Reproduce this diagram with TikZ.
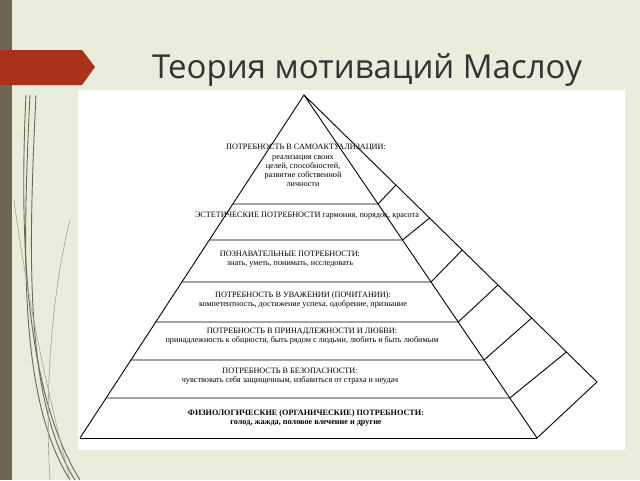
\documentclass[tikz,border=0pt]{standalone}
\usepackage{fontspec}
\setmainfont{Liberation Serif}
\newfontfamily\titlefont{Open Sans}
\definecolor{slidebg}{HTML}{E8EDDC}
\definecolor{barbrown}{HTML}{6E6650}
\definecolor{bannerred}{HTML}{A8321A}
\definecolor{grass}{HTML}{6E6650}
\begin{document}
\begin{tikzpicture}[x=1pt,y=-1pt,
  lvl/.style={font=\fontsize{8.2}{9.2}\selectfont, align=center, inner sep=0pt},
  lvlbold/.style={lvl, font=\fontsize{8.2}{9.2}\selectfont\bfseries},
  edge/.style={line width=0.9pt}]
\useasboundingbox (0,0) rectangle (640,480);
\fill[slidebg] (0,0) rectangle (640,480);
\fill[barbrown] (0,0) rectangle (12,480);
% grass
\foreach \a/\b in {36/75,30/70,26/80}
  \draw[grass, line width=0.9pt] (\a,95) .. controls (\a-8,260) and (\b-50,400) .. (\b,480);
\draw[grass!60, line width=0.6pt] (14,200) .. controls (30,320) and (55,420) .. (70,480);
\draw[grass!60, line width=0.6pt] (70,220) .. controls (50,300) and (45,400) .. (50,480);
\fill[bannerred] (0,50) -- (82,50) -- (95,67) -- (82,85) -- (0,85) -- cycle;
\node[font=\titlefont\fontsize{33}{38}\selectfont, text=black!80] (title) at (367,70) {Теория мотиваций Маслоу};
\fill[white] (78,90) rectangle (625,450);
% pyramid
\coordinate (apex) at (304,95);
\coordinate (bl) at (80,438);
\coordinate (fr) at (537,438);
\coordinate (br) at (597,382);
\draw[edge] (bl) -- (apex) -- (fr) -- (br) -- (apex);
\draw[edge] (bl) -- (fr);
\foreach \y/\by in {204/185,240/218,282/250,322/285,360/318,398/352}{
  \pgfmathsetmacro\xl{304-224/343*(\y-95)}
  \pgfmathsetmacro\xr{304+233/343*(\y-95)}
  \pgfmathsetmacro\xb{304+293/287*(\by-95)}
  \draw[edge] (\xl,\y) -- (\xr,\y) -- (\xb,\by);
}
% texts
\node[lvl] (self) at (306,148) {ПОТРЕБНОСТЬ В САМОАКТУАЛИЗАЦИИ:};
\node[lvl, anchor=north] (selfb) at (303,155) {реализация своих\\целей, способностей,\\развитие собственной\\личности};
\node[lvl] (aest) at (307,216) {ЭСТЕТИЧЕСКИЕ ПОТРЕБНОСТИ гармония, порядок, красота};
\node[lvl] (cogn) at (290,259) {ПОЗНАВАТЕЛЬНЫЕ ПОТРЕБНОСТИ:\\знать, уметь, понимать, исследовать};
\node[lvl] (esteem) at (303,300) {ПОТРЕБНОСТЬ В УВАЖЕНИИ (ПОЧИТАНИИ):\\компетентность, достижение успеха, одобрение, признание};
\node[lvl] (love) at (302,336) {ПОТРЕБНОСТЬ В ПРИНАДЛЕЖНОСТИ И ЛЮБВИ:\\принадлежность к общности, быть рядом с людьми, любить и быть любимым};
\node[lvl] (safe) at (290,376) {ПОТРЕБНОСТЬ В БЕЗОПАСНОСТИ:\\чувствовать себя защищенным, избавиться от страха и неудач};
\node[lvlbold] (phys) at (306,418) {ФИЗИОЛОГИЧЕСКИЕ (ОРГАНИЧЕСКИЕ) ПОТРЕБНОСТИ:\\голод, жажда, половое влечение и другие};
\end{tikzpicture}
\end{document}
